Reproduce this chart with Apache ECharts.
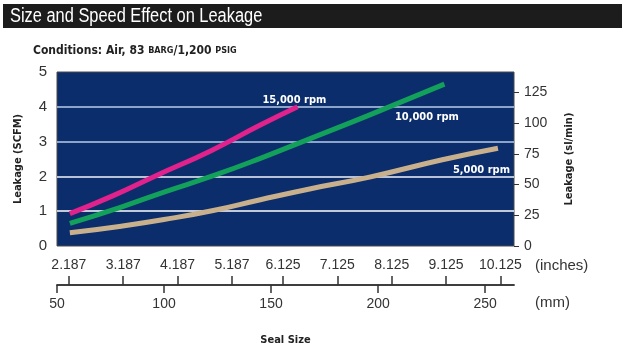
<!DOCTYPE html>
<html>
<head>
<meta charset="utf-8">
<script src="https://cdn.jsdelivr.net/npm/echarts@6/dist/echarts.min.js"></script>
<style>
  html, body { margin: 0; padding: 0; background: #fff; }
  #chart { width: 622px; height: 353px; }
</style>
</head>
<body>
<div id="chart"></div>
<script>
// seal size in mm, leakage in SCFM
var mm15k = [56, 76, 95.5, 122, 144.5, 162.4];
var scfm15k = [0.93, 1.44, 2.0, 2.74, 3.46, 4.0];
var mm10k = [56, 80, 100, 123, 145, 168, 195, 231];
var scfm10k = [0.65, 1.12, 1.55, 2.02, 2.52, 3.08, 3.74, 4.65];
var mm5k = [56, 80, 100, 123, 145, 168, 196, 230, 256];
var scfm5k = [0.38, 0.57, 0.76, 1.02, 1.33, 1.64, 1.98, 2.48, 2.81];

var inchTicks = [2.187, 3.187, 4.187, 5.187, 6.125, 7.125, 8.125, 9.125, 10.125];
var mmTicks = [50, 100, 150, 200, 250];
var slminTicks = [0, 25, 50, 75, 100, 125];
var SCFM_TO_SLMIN = 28.3168;

var numFont = '"Liberation Sans", Arial, sans-serif';
var boldFont = '"DejaVu Sans Condensed", "DejaVu Sans", sans-serif';

function pairs(xs, ys) {
  return xs.map(function (x, i) { return [x, ys[i]]; });
}

function rpmLabel(text, coord) {
  return {
    symbol: 'rect',
    symbolSize: 1,
    itemStyle: { color: 'transparent' },
    data: [{ coord: coord, value: text }],
    label: {
      show: true, position: 'inside', formatter: text,
      color: '#fff', fontFamily: boldFont, fontWeight: 'bold', fontSize: 11
    }
  };
}

var chart = echarts.init(document.getElementById('chart'));
chart.setOption({
  animation: false,
  grid: {
    left: 57, right: 108, top: 72, bottom: 107,
    show: true, backgroundColor: '#0c2d6b', borderColor: '#4a4a4a', borderWidth: 1
  },
  graphic: [
    { type: 'rect', left: 3, top: 4, shape: { width: 619, height: 24 }, style: { fill: '#1c1c1c' } },
    { type: 'text', x: 10, y: 6, scaleX: 0.82, originX: 0,
      style: { text: 'Size and Speed Effect on Leakage', fill: '#fff', font: '20px ' + numFont } },
    { type: 'text', left: 33, top: 45, style: {
      text: '{a|Conditions: Air, 83 }{s|BARG}{a|/1,200 }{s|PSIG}',
      rich: {
        a: { fontFamily: boldFont, fontWeight: 'bold', fontSize: 12, fill: '#222' },
        s: { fontFamily: boldFont, fontWeight: 'bold', fontSize: 9, fill: '#222' }
      } } },
    { type: 'text', left: 535, top: 258, style: { text: '(inches)', fill: '#333', font: '15px ' + numFont } },
    { type: 'text', left: 535, top: 295, style: { text: '(mm)', fill: '#333', font: '15px ' + numFont } }
  ],
  xAxis: [
    {
      type: 'value', min: 50, max: 263.5, position: 'bottom', offset: 39,
      name: 'Seal Size', nameLocation: 'middle', nameGap: 50,
      nameTextStyle: { fontFamily: boldFont, fontWeight: 'bold', fontSize: 11, color: '#222' },
      axisLine: { show: true, onZero: false, lineStyle: { color: '#333', width: 1.5 } },
      axisTick: { show: true, length: 8, customValues: mmTicks, lineStyle: { color: '#333', width: 1.5 } },
      axisLabel: { customValues: mmTicks, margin: 12, color: '#333', fontFamily: numFont, fontSize: 14 },
      splitLine: { show: false }
    },
    {
      type: 'value', min: 50 / 25.4, max: 263.5 / 25.4, position: 'bottom', offset: 39,
      axisLine: { show: true, onZero: false, lineStyle: { color: '#333', width: 1.5 } },
      // ticks point up, toward the inch labels
      axisTick: { show: true, length: -9, customValues: inchTicks, lineStyle: { color: '#333', width: 1.5 } },
      axisLabel: { inside: true, customValues: inchTicks, margin: 13, color: '#333', fontFamily: numFont, fontSize: 14,
        formatter: function (v) { return v.toFixed(3); } },
      splitLine: { show: false }
    }
  ],
  yAxis: [
    {
      type: 'value', min: 0, max: 5, interval: 1, position: 'left',
      name: 'Leakage (SCFM)', nameLocation: 'middle', nameGap: 33, nameRotate: 90,
      nameTextStyle: { fontFamily: boldFont, fontWeight: 'bold', fontSize: 11, color: '#222' },
      axisLine: { show: false }, axisTick: { show: false },
      axisLabel: { margin: 10, color: '#333', fontFamily: numFont, fontSize: 15 },
      splitLine: { show: true, lineStyle: { width: 1.5,
        color: ['transparent', '#ffffff', '#f2f5fb', '#b9cdea', '#b9cdea', 'transparent'] } }
    },
    {
      type: 'value', min: 0, max: 5 * SCFM_TO_SLMIN, position: 'right',
      name: 'Leakage (sl/min)', nameLocation: 'middle', nameGap: 50, nameRotate: 90,
      nameTextStyle: { fontFamily: boldFont, fontWeight: 'bold', fontSize: 11, color: '#222' },
      axisLine: { show: false },
      axisTick: { show: true, length: 5, customValues: slminTicks, lineStyle: { color: '#333' } },
      axisLabel: { customValues: slminTicks, margin: 10, color: '#333', fontFamily: numFont, fontSize: 14 },
      splitLine: { show: false }
    }
  ],
  series: [
    {
      name: '5,000 rpm', type: 'line', smooth: true, symbol: 'none',
      data: pairs(mm5k, scfm5k), lineStyle: { width: 5, color: '#c9b08c' },
      markPoint: rpmLabel('5,000 rpm', [248.3, 2.17])
    },
    {
      name: '10,000 rpm', type: 'line', smooth: true, symbol: 'none',
      data: pairs(mm10k, scfm10k), lineStyle: { width: 5, color: '#12a05a' },
      markPoint: rpmLabel('10,000 rpm', [222.8, 3.71])
    },
    {
      name: '15,000 rpm', type: 'line', smooth: true, symbol: 'none',
      data: pairs(mm15k, scfm15k), lineStyle: { width: 5, color: '#e2228c' },
      markPoint: rpmLabel('15,000 rpm', [160.9, 4.19])
    }
  ]
});
</script>
</body>
</html>
